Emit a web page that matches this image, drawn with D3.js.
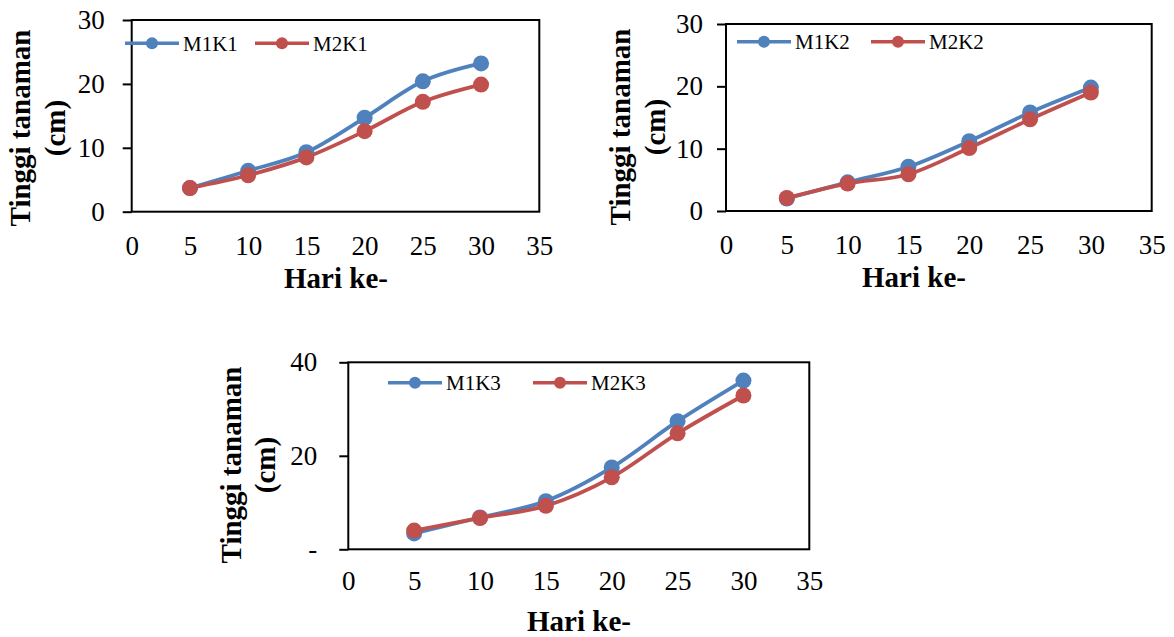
<!DOCTYPE html>
<html>
<head>
<meta charset="utf-8">
<script src="https://cdn.jsdelivr.net/npm/d3@7"></script>
<style>
  html, body { margin: 0; padding: 0; background: #fff; }
  svg { display: block; }
  text { font-family: "Liberation Serif", "Times New Roman", serif; fill: #000; }
</style>
</head>
<body>
<svg id="chart" width="1174" height="637"></svg>
<script>
// ---- data ----
const days = [5, 10, 15, 20, 25, 30];
const xTicks = [0, 5, 10, 15, 20, 25, 30, 35];
const yTicksA = [0, 10, 20, 30];
const yTicksB = [0, 20, 40];

const M1K1 = [3.7, 6.4, 9.3, 14.7, 20.4, 23.2];
const M2K1 = [3.7, 5.7, 8.5, 12.6, 17.2, 19.9];
const M1K2 = [2.0, 4.6, 7.1, 11.2, 15.8, 19.8];
const M2K2 = [2.1, 4.4, 5.9, 10.1, 14.7, 19.0];
const M1K3 = [3.4, 6.8, 10.3, 17.5, 27.4, 36.1];
const M2K3 = [4.0, 6.7, 9.3, 15.4, 24.8, 32.9];

const seriesNames = [["M1K1", "M2K1"], ["M1K2", "M2K2"], ["M1K3", "M2K3"]];
const xTitle = "Hari ke-";
const yTitle = ["Tinggi tanaman", "(cm)"];

const colors = ["#4F81BD", "#C0504D"];

// ---- layout ----
const panels = [
  { l: 131.7, r: 539.3, t: 20, b: 211.7, ymax: 30, yt: yTicksA, series: [M1K1, M2K1], names: seriesNames[0],
    ylabPad: 18, xlabPad: 24.5, legY: 43.3, legX: [125, 255], titleX: [19.6, 55], titleY: 128, xTitleX: 336, xTitleY: 278 },
  { l: 726, r: 1151.7, t: 24, b: 211, ymax: 30, yt: yTicksA, series: [M1K2, M2K2], names: seriesNames[1],
    ylabPad: 14, xlabPad: 23.5, legY: 41.7, legX: [737, 871], titleX: [620, 655], titleY: 127, xTitleX: 914, xTitleY: 277 },
  { l: 348.3, r: 809.3, t: 362.3, b: 549.3, ymax: 40, yt: yTicksB, series: [M1K3, M2K3], names: seriesNames[2],
    ylabPad: 22, xlabPad: 22, legY: 382.7, legX: [388, 533], titleX: [230.6, 265], titleY: 465, xTitleX: 579, xTitleY: 621 }
];

const svg = d3.select("#chart");
const tickFont = 27, titleFont = 29, legFont = 21;

panels.forEach(p => {
  const x = d3.scaleLinear().domain([0, 35]).range([p.l, p.r]);
  const y = d3.scaleLinear().domain([0, p.ymax]).range([p.b, p.t]);
  const g = svg.append("g");

  // y axis
  const ya = g.append("g").attr("transform", `translate(${p.l},0)`)
    .call(d3.axisLeft(y).tickValues(p.yt).tickSize(9).tickPadding(p.ylabPad)
      .tickFormat(d => (p.ymax === 40 && d === 0) ? "-" : d3.format("d")(d)));
  ya.select(".domain").remove();
  ya.selectAll(".tick line").attr("stroke", "#000").attr("stroke-width", 2);
  ya.selectAll(".tick text").attr("font-size", tickFont).attr("font-family", "Liberation Serif");

  // x axis labels
  const xa = g.append("g").attr("transform", `translate(0,${p.b})`)
    .call(d3.axisBottom(x).tickValues(xTicks).tickSize(0).tickPadding(p.xlabPad).tickFormat(d3.format("d")));
  xa.select(".domain").remove();
  xa.selectAll(".tick text").attr("font-size", tickFont).attr("font-family", "Liberation Serif");

  // frame
  g.append("rect").attr("x", p.l).attr("y", p.t).attr("width", p.r - p.l).attr("height", p.b - p.t)
    .attr("fill", "none").attr("stroke", "#000").attr("stroke-width", 2);

  // series
  const line = d3.line().x(d => x(d[0])).y(d => y(d[1])).curve(d3.curveCardinal.tension(0));
  p.series.forEach((vals, i) => {
    const pts = days.map((d, k) => [d, vals[k]]);
    g.append("path").datum(pts).attr("d", line).attr("fill", "none")
      .attr("stroke", colors[i]).attr("stroke-width", 3.8).attr("stroke-linejoin", "round");
  });
  p.series.forEach((vals, i) => {
    g.selectAll(null).data(days.map((d, k) => [d, vals[k]])).enter().append("circle")
      .attr("cx", d => x(d[0])).attr("cy", d => y(d[1])).attr("r", 8).attr("fill", colors[i]);
  });

  // legend
  p.names.forEach((nm, i) => {
    const lx = p.legX[i];
    g.append("line").attr("x1", lx).attr("x2", lx + 54).attr("y1", p.legY).attr("y2", p.legY)
      .attr("stroke", colors[i]).attr("stroke-width", 3.4);
    g.append("circle").attr("cx", lx + 27).attr("cy", p.legY).attr("r", 6).attr("fill", colors[i]);
    g.append("text").attr("x", lx + 58).attr("y", p.legY).attr("dy", "0.35em")
      .attr("font-size", legFont).text(nm);
  });

  // titles
  g.append("text").attr("x", p.xTitleX).attr("y", p.xTitleY).attr("dy", "0.35em")
    .attr("text-anchor", "middle").attr("font-size", titleFont).attr("font-weight", "bold").text(xTitle);
  yTitle.forEach((t, i) => {
    g.append("text").attr("transform", `translate(${p.titleX[i]},${p.titleY}) rotate(-90)`)
      .attr("dy", "0.35em").attr("text-anchor", "middle").attr("font-size", titleFont)
      .attr("font-weight", "bold").text(t);
  });
});
</script>
</body>
</html>
